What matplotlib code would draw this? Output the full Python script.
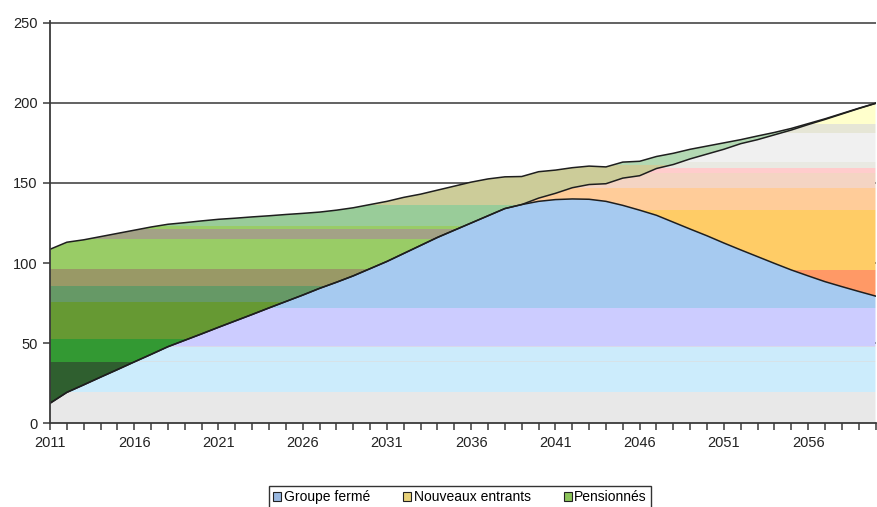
import numpy as np
import matplotlib.pyplot as plt
from matplotlib.patches import Patch

plt.rcParams['font.family'] = ['Liberation Sans', 'DejaVu Sans']

years = np.arange(2011, 2061)
tick_labels = [str(y) if (y - 2011) % 5 == 0 else '' for y in years]

groupe_ferme = [12.5, 19.3, 24.0, 28.8, 33.5, 38.3, 43.0, 47.8, 51.8, 55.8,
                59.9, 63.9, 67.9, 72.0, 76.0, 80.0, 84.2, 88.0, 92.0, 96.5,
                101.0, 106.0, 111.0, 116.0, 120.5, 125.0, 129.5, 134.0, 136.5, 138.5,
                139.6, 140.0, 139.8, 138.5, 136.0, 133.0, 129.8, 125.5, 121.2, 117.0,
                112.5, 108.2, 104.0, 99.8, 95.7, 92.0, 88.4, 85.3, 82.3, 79.4]
nouveaux_entrants = [0, 0, 0, 0, 0, 0, 0, 0, 0, 0,
                     0, 0, 0, 0, 0, 0, 0, 0, 0, 0,
                     0, 0, 0, 0, 0, 0, 0, 0, 0, 2.0,
                     3.9, 7.0, 9.2, 11.0, 17.0, 21.5, 29.2, 36.0, 43.8, 51.0,
                     58.5, 66.3, 73.0, 80.2, 87.3, 94.4, 101.2, 107.7, 114.1, 120.2]
pensionnes = [96.1, 93.7, 90.5, 87.7, 85.0, 82.2, 79.5, 76.4, 73.4, 70.5,
              67.4, 64.1, 60.9, 57.5, 54.3, 51.0, 47.6, 45.0, 42.5, 40.0,
              37.5, 35.0, 32.0, 29.5, 27.5, 25.5, 23.0, 19.8, 17.5, 16.5,
              14.5, 12.5, 11.5, 10.5, 10.0, 9.0, 7.5, 7.0, 6.0, 5.0,
              4.0, 2.5, 2.3, 1.5, 1.0, 0.6, 0.4, 0.3, 0.2, 0.1]

# horizontal colour bands of each area (Excel gradient look)
gf_bands = [(0, 19.6, '#E8E8E8'), (19.6, 38.2, '#CCECFC'), (38.2, 39.0, '#D6E2E8'),
            (39.0, 47.6, '#CCEBFB'), (47.6, 48.3, '#D8D8EA'), (48.3, 72.0, '#CCCCFF'),
            (72.0, 260, '#A6CAF0')]
ne_bands = [(0, 95.7, '#FF9966'), (95.7, 133.4, '#FFCC66'), (133.4, 147.0, '#FFCC99'),
            (147.0, 156.0, '#F4D4C3'), (156.0, 159.3, '#FFCCCC'), (159.3, 163.3, '#E9E9E2'),
            (163.3, 181.0, '#F0F0F0'), (181.0, 186.6, '#E6E6D6'), (186.6, 260, '#FFFFCC')]
p_bands = [(0, 38.0, '#2F5F2F'), (38.0, 52.3, '#339933'), (52.3, 75.5, '#669933'),
           (75.5, 85.7, '#669966'), (85.7, 96.0, '#999966'), (96.0, 115.2, '#99CC66'),
           (115.2, 121.0, '#A3A286'), (121.0, 123.0, '#99CC66'), (123.0, 136.3, '#99CC99'),
           (136.3, 161.0, '#CCCC99'), (161.0, 260, '#B3D9B3')]

gf = np.array(groupe_ferme)
ne_top = gf + np.array(nouveaux_entrants)
total = ne_top + np.array(pensionnes)

fig = plt.figure(figsize=(8.77, 5.07), dpi=100)
ymax = 251
bottom_px, px_per_unit = 423.3, 1.6025
top_px = bottom_px - ymax * px_per_unit
ax = fig.add_axes([50 / 877, 1 - bottom_px / 507, (875.5 - 50) / 877, (bottom_px - top_px) / 507])

for lower, upper, bands in [(np.zeros_like(gf), gf, gf_bands),
                            (gf, ne_top, ne_bands),
                            (ne_top, total, p_bands)]:
    poly = ax.fill_between(years, lower, upper, facecolor='none', edgecolor='none')
    clip = poly.get_paths()[0]
    for y0, y1, c in bands:
        span = ax.axhspan(y0, y1, color=c, lw=0, zorder=1)
        span.set_clip_path(clip, ax.transData)

for line in [gf, ne_top, total]:
    ax.plot(years, line, color='#1e1e1e', lw=1.1, zorder=3)

ax.set_xlim(2011, 2060)
ax.set_ylim(0, ymax)
ax.set_yticks(np.arange(0, 251, 50))
ax.set_xticks(years)
ax.set_xticklabels(tick_labels)
ax.yaxis.grid(True, color='#555555', lw=1.3)
ax.set_axisbelow(True)

for s in ['top', 'right']:
    ax.spines[s].set_visible(False)
for s in ['left', 'bottom']:
    ax.spines[s].set_color('#3a3a3a')
    ax.spines[s].set_linewidth(1.3)
    ax.spines[s].set_zorder(4)
ax.tick_params(axis='both', direction='out', length=5, width=1.1, color='#3a3a3a',
               labelsize=10.5, labelcolor='#222222', pad=4)

handles = [Patch(facecolor='#99B8E0', edgecolor='#222222', lw=0.8),
           Patch(facecolor='#E8D27A', edgecolor='#222222', lw=0.8),
           Patch(facecolor='#8CC45A', edgecolor='#222222', lw=0.8)]
leg = fig.legend(handles, ['Groupe fermé', 'Nouveaux entrants', 'Pensionnés'],
                 loc='upper center', bbox_to_anchor=(0.5245, 0.041), ncol=3,
                 frameon=True, fancybox=False, edgecolor='#333333', framealpha=1,
                 fontsize=10, handlelength=0.6, handleheight=0.6, handletextpad=0.15,
                 columnspacing=2.4, borderpad=0.3, borderaxespad=0)
leg.get_frame().set_linewidth(1.0)

fig.savefig('out.png', dpi=100)
